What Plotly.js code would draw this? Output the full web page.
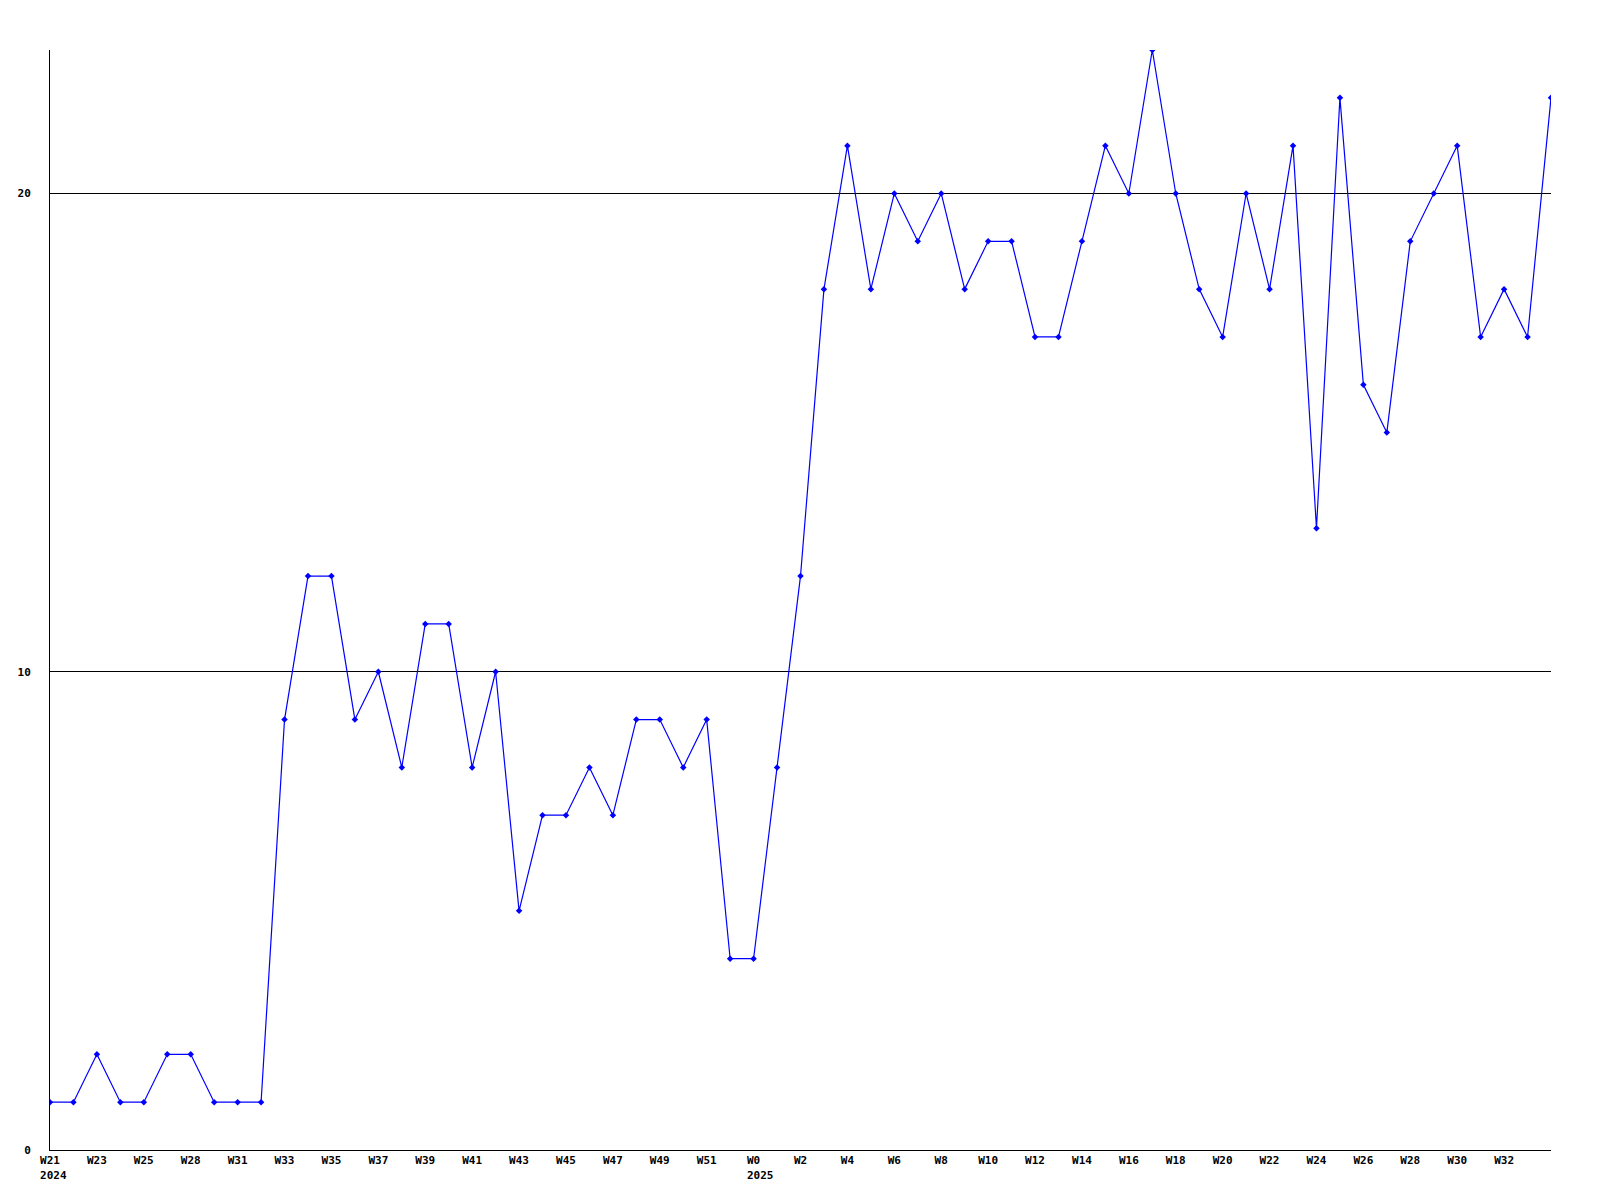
<!DOCTYPE html>
<html>
<head>
<meta charset="utf-8">
<script src="https://cdn.plot.ly/plotly-3.0.1.min.js"></script>
<style>html,body{margin:0;padding:0;background:#fff;}#chart{width:1600px;height:1200px;}</style>
</head>
<body>
<div id="chart"></div>
<script>
var weeks = ["W21","W22","W23","W24","W25","W26","W28","W29","W31","W32",
  "W33","W34","W35","W36","W37","W38","W39","W40","W41","W42",
  "W43","W44","W45","W46","W47","W48","W49","W50","W51","W52",
  "W0","W1","W2","W3","W4","W5","W6","W7","W8","W9",
  "W10","W11","W12","W13","W14","W15","W16","W17","W18","W19",
  "W20","W21","W22","W23","W24","W25","W26","W27","W28","W29",
  "W30","W31","W32","W33","W34"];
var years = ["2024","2024","2024","2024","2024","2024","2024","2024","2024","2024",
  "2024","2024","2024","2024","2024","2024","2024","2024","2024","2024",
  "2024","2024","2024","2024","2024","2024","2024","2024","2024","2024",
  "2025","2025","2025","2025","2025","2025","2025","2025","2025","2025",
  "2025","2025","2025","2025","2025","2025","2025","2025","2025","2025",
  "2025","2025","2025","2025","2025","2025","2025","2025","2025","2025",
  "2025","2025","2025","2025","2025"];
var values = [1,1,2,1,1,2,2,1,1,1,
  9,12,12,9,10,8,11,11,8,10,
  5,7,7,8,7,9,9,8,9,4,
  4,8,12,18,21,18,20,19,20,18,
  19,19,17,17,19,21,20,23,20,18,
  17,20,18,21,13,22,16,15,19,20,
  21,17,18,17,22];
var yTicks = [0,10,20];

var cats = weeks.map(function (w, i) { return years[i] + "-" + w; });
var tickvals = [], ticktext = [];
for (var i = 0; i < weeks.length - 1; i += 2) {
  tickvals.push(cats[i]);
  var lbl = weeks[i];
  if (i === 0 || years[i] !== years[i-1]) {
    var pad = "";
    for (var k = 0; k < 4 - weeks[i].length; k++) pad += "\u00a0";
    lbl += "<br>" + pad + years[i];
  }
  ticktext.push(lbl);
}

var trace = {
  x: cats, y: values, type: "scatter", mode: "lines+markers",
  line: {color: "#0000ff", width: 1.2},
  marker: {color: "#0000ff", size: 5, symbol: "diamond"},
  hoverinfo: "x+y"
};

var font = {family: "DejaVu Sans Mono, Liberation Mono, monospace", size: 11, color: "#000", weight: "bold"};

var layout = {
  width: 1600, height: 1200,
  margin: {l: 50, r: 49, t: 50, b: 50},
  paper_bgcolor: "#fff", plot_bgcolor: "#fff",
  showlegend: false,
  font: font,
  xaxis: {
    type: "category", range: [0, weeks.length - 1],
    tickvals: tickvals, ticktext: ticktext,
    showgrid: false, zeroline: false,
    showline: true, linecolor: "#000", linewidth: 1,
    ticks: "", tickfont: font, tickangle: 0,
    fixedrange: true
  },
  yaxis: {
    range: [0, 23], tickvals: yTicks, ticktext: yTicks.map(String),
    showgrid: true, gridcolor: "#000", gridwidth: 1,
    zeroline: false, showline: true, linecolor: "#000", linewidth: 1,
    ticks: "", tickfont: font, ticklabelstandoff: 16,
    fixedrange: true
  }
};

Plotly.newPlot("chart", [trace], layout, {displayModeBar: false, staticPlot: true});
</script>
</body>
</html>
